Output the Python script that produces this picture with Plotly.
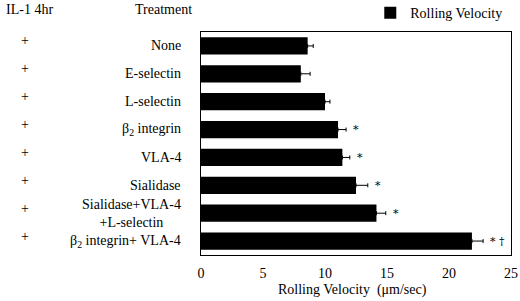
import plotly.graph_objects as go

treatments = ["None", "E-selectin", "L-selectin", "β<sub>2</sub> integrin", "VLA-4",
              "Sialidase", "Sialidase+VLA-4<br>+L-selectin", "β<sub>2</sub> integrin+ VLA-4"]
il1 = ["+", "+", "+", "+", "+", "+", "+", "+"]
velocity = [8.6, 8.05, 10.0, 11.05, 11.4, 12.5, 14.15, 21.85]
sem = [0.45, 0.75, 0.4, 0.65, 0.6, 0.95, 0.75, 0.9]
signif = ["", "", "", "*", "*", "*", "*", "* †"]
x_ticks = [0, 5, 10, 15, 20, 25]
x_title = "Rolling Velocity  (μm/sec)"

FONT = "Liberation Serif"
ypos = list(range(len(treatments)))

fig = go.Figure()
fig.add_trace(go.Bar(
    y=ypos, x=velocity, orientation="h", name="Rolling Velocity",
    marker=dict(color="black", line=dict(width=0)),
    width=0.62,
    error_x=dict(type="data", array=sem, arrayminus=[0]*len(sem), symmetric=False,
                 color="black", thickness=1, width=2),
    showlegend=True,
))

annotations = []
for i, t in enumerate(treatments):
    annotations.append(dict(x=-0.058, xref="paper", y=i, yref="y", text=t,
                            showarrow=False, xanchor="right", align="center",
                            font=dict(family=FONT, size=14, color="black")))
    annotations.append(dict(x=-0.568, xref="paper", y=i, yref="y", text=il1[i],
                            showarrow=False, xanchor="center", yshift=5,
                            font=dict(family=FONT, size=14, color="black")))
    if signif[i]:
        annotations.append(dict(x=velocity[i] + sem[i], y=i, text=signif[i],
                                showarrow=False, xanchor="left", xshift=5,
                                font=dict(family="DejaVu Serif", size=11, color="black")))

annotations.append(dict(x=-0.635, xref="paper", y=1.103, yref="paper",
                        text="IL-1 4hr", showarrow=False, xanchor="left", yanchor="middle",
                        font=dict(family=FONT, size=14, color="black")))
annotations.append(dict(x=-0.024, xref="paper", y=1.103, yref="paper",
                        text="Treatment", showarrow=False, xanchor="right", yanchor="middle",
                        font=dict(family=FONT, size=14, color="black")))
annotations.append(dict(x=0.49, xref="paper", y=-0.155, yref="paper",
                        text=x_title, showarrow=False, xanchor="center", yanchor="middle",
                        font=dict(family=FONT, size=14, color="black")))

fig.update_layout(
    width=520, height=301,
    margin=dict(l=201, r=9, t=32, b=46, autoexpand=False),
    paper_bgcolor="white", plot_bgcolor="white",
    font=dict(family=FONT, size=14, color="black"),
    annotations=annotations,
    legend=dict(x=0.988, y=1.085, xanchor="right", yanchor="middle",
                font=dict(family=FONT, size=14, color="black"),
                bgcolor="rgba(0,0,0,0)", itemwidth=30),
    xaxis=dict(range=[0, 25], tickvals=x_ticks, ticktext=[str(v) for v in x_ticks],
               showgrid=False, zeroline=False, showline=True, linecolor="black",
               linewidth=1, mirror=True, ticks="outside", ticklen=5,
               tickcolor="rgba(0,0,0,0)",
               ticklabeloverflow="allow",
               tickfont=dict(family=FONT, size=14, color="black")),
    yaxis=dict(range=[len(treatments) - 0.5, -0.5], showticklabels=False,
               showgrid=False, zeroline=False, showline=True, linecolor="black",
               linewidth=1, mirror=True, ticks=""),
)

fig.write_html("out.html", config={"displayModeBar": False},
               post_script="document.body.style.margin='0';document.body.style.overflow='hidden';")
